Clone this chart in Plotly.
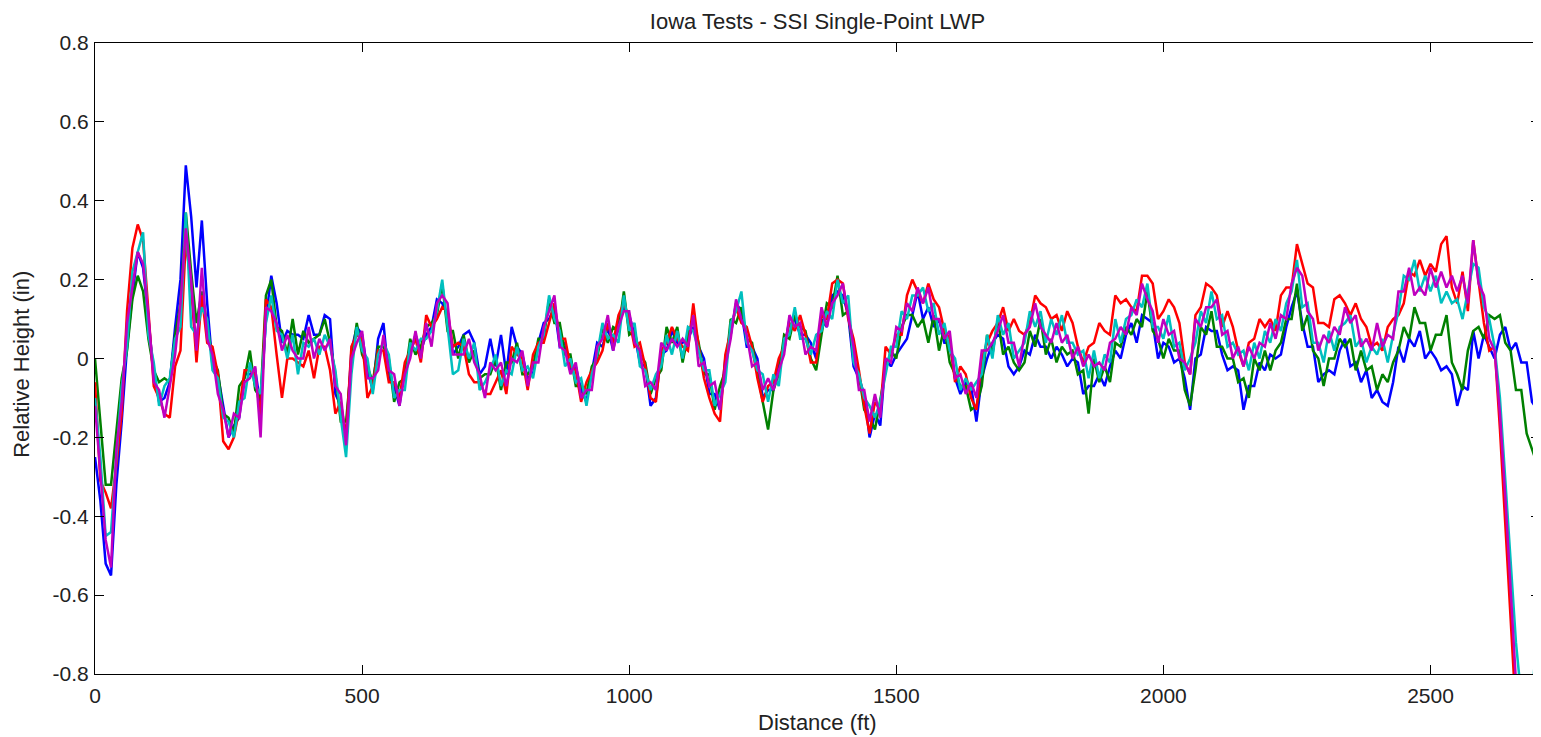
import plotly.graph_objects as go

distance_ft = list(range(0, 2701, 10))

blue = [
    -0.25, -0.36, -0.52, -0.55, -0.32, -0.16, 0.03, 0.16, 0.27, 0.23,
    0.10, -0.04, -0.11, -0.10, -0.06, 0.08, 0.20, 0.49, 0.36, 0.18,
    0.35, 0.14, -0.02, -0.04, -0.12, -0.20, -0.17, -0.15, -0.04, -0.04,
    -0.03, -0.12, 0.10, 0.21, 0.14, 0.04, 0.07, 0.06, 0.06, 0.05,
    0.11, 0.06, 0.06, 0.11, 0.10, -0.09, -0.12, -0.20, 0.02, 0.08,
    0.06, -0.03, -0.08, 0.05, 0.09, -0.05, -0.07, -0.12, -0.02, 0.01,
    0.06, 0.02, 0.06, 0.08, 0.15, 0.14, 0.11, 0.01, 0.03, 0.06,
    0.07, 0.04, -0.04, -0.02, 0.05, -0.02, 0.06, -0.04, 0.08, 0.03,
    0.01, -0.05, -0.04, 0.04, 0.09, 0.10, 0.13, 0.03, 0.04, -0.03,
    -0.02, -0.08, -0.11, -0.03, 0.04, 0.03, 0.08, 0.02, 0.10, 0.13,
    0.11, 0.06, -0.01, -0.02, -0.12, -0.10, 0.01, 0.02, 0.07, 0.04,
    0.04, 0.05, 0.08, 0.03, 0.00, -0.09, -0.09, -0.13, 0.00, 0.06,
    0.14, 0.12, 0.03, 0.03, 0.00, -0.10, -0.08, -0.08, -0.01, 0.02,
    0.10, 0.10, 0.06, 0.06, 0.04, 0.00, 0.10, 0.08, 0.16, 0.17,
    0.16, 0.11, -0.02, -0.05, -0.09, -0.20, -0.14, -0.17, 0.00, -0.02,
    0.01, 0.03, 0.05, 0.11, 0.17, 0.10, 0.13, 0.08, 0.10, 0.04,
    0.04, -0.05, -0.09, -0.06, -0.07, -0.16, -0.05, 0.00, 0.04, 0.06,
    0.05, -0.02, -0.04, -0.02, 0.02, 0.01, 0.06, 0.03, 0.03, 0.00,
    0.03, 0.01, -0.02, 0.00, -0.01, -0.09, -0.07, -0.07, -0.04, -0.07,
    -0.02, 0.02, 0.00, 0.06, 0.09, 0.04, 0.11, 0.10, 0.09, 0.00,
    0.04, 0.03, -0.01, 0.00, -0.05, -0.13, 0.00, 0.01, 0.08, 0.07,
    0.07, 0.01, -0.03, -0.02, -0.03, -0.13, -0.07, -0.07, -0.01, -0.03,
    0.01, 0.00, 0.01, 0.08, 0.13, 0.17, 0.09, 0.03, 0.03, -0.06,
    -0.04, -0.03, -0.04, 0.02, 0.05, -0.02, -0.01, -0.06, -0.03, -0.10,
    -0.08, -0.11, -0.12, -0.06, 0.03, -0.01, 0.05, 0.03, 0.07, 0.00,
    0.02, 0.00, -0.03, -0.02, -0.04, -0.12, -0.07, -0.08, 0.07, 0.00,
    0.06, 0.03, 0.00, 0.06, 0.08, 0.02, 0.04, -0.01, -0.01, -0.11,
    -0.13,
]

green = [
    0.00, -0.17, -0.32, -0.32, -0.18, -0.05, 0.02, 0.15, 0.21, 0.17,
    0.05, -0.03, -0.06, -0.05, -0.06, 0.06, 0.14, 0.37, 0.22, 0.09,
    0.17, 0.08, 0.00, -0.03, -0.14, -0.15, -0.19, -0.07, -0.05, 0.02,
    -0.08, -0.10, 0.16, 0.20, 0.08, 0.07, 0.01, 0.10, 0.01, 0.07,
    0.04, 0.05, 0.06, 0.10, 0.04, -0.04, -0.16, -0.16, -0.01, 0.09,
    0.01, -0.02, -0.06, 0.03, 0.03, 0.00, -0.11, -0.06, -0.05, 0.05,
    0.01, 0.03, 0.08, 0.09, 0.11, 0.19, 0.07, 0.07, 0.00, 0.06,
    -0.01, 0.02, -0.05, -0.04, -0.04, 0.00, -0.08, -0.01, -0.01, 0.04,
    -0.04, -0.04, -0.02, 0.05, 0.05, 0.15, 0.09, 0.09, 0.01, 0.01,
    -0.07, -0.07, -0.09, -0.02, 0.00, 0.08, 0.04, 0.08, 0.07, 0.17,
    0.06, 0.07, 0.01, -0.01, -0.09, -0.05, -0.03, 0.08, 0.04, 0.08,
    -0.01, 0.06, 0.10, 0.04, -0.04, -0.04, -0.13, -0.07, -0.03, 0.10,
    0.09, 0.13, 0.05, 0.04, -0.04, -0.11, -0.18, -0.08, -0.04, 0.06,
    0.05, 0.11, 0.08, 0.07, 0.00, -0.03, 0.06, 0.14, 0.13, 0.21,
    0.11, 0.12, 0.00, -0.04, -0.13, -0.15, -0.18, -0.11, -0.03, 0.02,
    0.00, 0.08, 0.11, 0.11, 0.08, 0.10, 0.04, 0.11, 0.02, 0.08,
    -0.01, -0.04, -0.07, -0.07, -0.13, -0.12, -0.07, 0.06, 0.01, 0.10,
    0.01, 0.03, -0.01, -0.03, -0.01, 0.07, 0.03, 0.10, 0.01, 0.05,
    -0.01, 0.03, 0.01, 0.02, -0.04, -0.03, -0.14, 0.00, -0.06, -0.02,
    -0.06, 0.04, 0.03, 0.08, 0.06, 0.10, 0.08, 0.17, 0.07, 0.05,
    0.00, 0.05, 0.02, 0.02, -0.08, -0.12, -0.03, 0.08, 0.06, 0.12,
    0.03, 0.03, 0.00, 0.00, -0.06, -0.05, -0.10, 0.00, -0.03, 0.02,
    -0.03, 0.02, 0.04, 0.10, 0.10, 0.19, 0.07, 0.11, 0.02, 0.00,
    -0.07, 0.00, 0.00, 0.05, 0.03, 0.05, -0.03, 0.02, -0.03, -0.02,
    -0.08, -0.04, -0.06, -0.01, 0.02, 0.08, 0.05, 0.13, 0.09, 0.09,
    0.02, 0.06, 0.06, 0.11, -0.01, -0.04, -0.08, 0.02, 0.07, 0.08,
    0.05, 0.11, 0.10, 0.11, 0.04, 0.02, -0.08, -0.08, -0.19, -0.23,
    -0.27,
]

red = [
    -0.06, -0.31, -0.34, -0.38, -0.27, -0.14, 0.12, 0.28, 0.34, 0.30,
    0.12, -0.07, -0.10, -0.14, -0.15, -0.02, 0.02, 0.30, 0.18, -0.01,
    0.16, 0.04, 0.03, -0.04, -0.21, -0.23, -0.20, -0.13, -0.03, -0.03,
    -0.04, -0.15, 0.15, 0.13, 0.01, -0.10, 0.00, 0.00, -0.01, -0.02,
    0.02, -0.05, 0.03, 0.03, -0.03, -0.14, -0.11, -0.20, 0.03, 0.06,
    0.05, -0.10, -0.07, 0.02, 0.02, -0.06, -0.06, -0.10, -0.01, 0.02,
    0.05, -0.01, 0.11, 0.08, 0.10, 0.13, 0.12, 0.03, 0.04, 0.03,
    -0.04, -0.06, -0.06, -0.09, -0.09, -0.06, -0.03, -0.09, 0.03, 0.01,
    0.00, -0.08, 0.01, 0.04, 0.04, 0.09, 0.14, 0.05, 0.05, -0.02,
    -0.03, -0.11, -0.06, -0.03, -0.01, 0.02, 0.09, 0.04, 0.11, 0.14,
    0.10, 0.03, 0.04, -0.02, -0.10, -0.11, 0.02, 0.04, 0.08, 0.05,
    0.03, 0.02, 0.14, 0.03, -0.05, -0.10, -0.14, -0.16, 0.01, 0.07,
    0.13, 0.09, 0.08, 0.03, -0.05, -0.11, -0.07, -0.06, 0.00, 0.03,
    0.09, 0.07, 0.11, 0.06, -0.01, -0.01, 0.11, 0.10, 0.19, 0.20,
    0.19, 0.10, 0.05, -0.03, -0.12, -0.19, -0.11, -0.13, 0.03, 0.01,
    0.06, 0.06, 0.16, 0.20, 0.17, 0.14, 0.19, 0.15, 0.13, 0.07,
    0.05, -0.06, -0.02, -0.04, -0.10, -0.13, 0.00, 0.04, 0.07, 0.09,
    0.13, 0.07, 0.10, 0.07, 0.06, 0.09, 0.16, 0.14, 0.13, 0.10,
    0.11, 0.07, 0.12, 0.09, 0.03, -0.01, 0.03, 0.04, 0.09, 0.07,
    0.06, 0.16, 0.14, 0.15, 0.13, 0.12, 0.21, 0.21, 0.19, 0.10,
    0.12, 0.15, 0.13, 0.09, -0.01, -0.04, 0.11, 0.13, 0.19, 0.18,
    0.16, 0.08, 0.12, 0.08, 0.02, -0.02, 0.04, 0.05, 0.10, 0.08,
    0.10, 0.07, 0.16, 0.18, 0.18, 0.29, 0.24, 0.19, 0.18, 0.09,
    0.09, 0.08, 0.15, 0.16, 0.14, 0.11, 0.14, 0.10, 0.08, 0.03,
    0.04, 0.02, 0.08, 0.10, 0.11, 0.14, 0.22, 0.21, 0.25, 0.21,
    0.24, 0.22, 0.29, 0.31, 0.18, 0.14, 0.22, 0.12, 0.30, 0.19,
    0.09, 0.02, 0.03, -0.18, -0.42, -0.66, -0.90, -1.00, -1.05, -1.05,
    -1.00,
]

cyan = [
    -0.10, -0.25, -0.45, -0.44, -0.25, -0.07, 0.03, 0.22, 0.27, 0.32,
    0.06, -0.01, -0.12, -0.07, -0.05, 0.05, 0.08, 0.37, 0.08, 0.06,
    0.13, 0.10, -0.03, -0.05, -0.15, -0.16, -0.20, -0.11, -0.10, -0.01,
    -0.07, -0.09, 0.09, 0.16, 0.07, 0.06, 0.00, 0.06, -0.04, 0.04,
    0.03, 0.05, 0.01, 0.06, 0.03, -0.03, -0.15, -0.25, -0.04, 0.08,
    0.02, 0.00, -0.09, 0.01, 0.04, 0.01, -0.10, -0.08, -0.08, 0.04,
    0.02, 0.05, 0.05, 0.07, 0.12, 0.20, 0.08, -0.04, -0.03, 0.05,
    0.00, 0.04, -0.08, -0.06, -0.03, 0.01, -0.07, -0.03, -0.04, 0.03,
    -0.03, -0.02, -0.05, 0.03, 0.06, 0.16, 0.10, 0.07, -0.02, 0.00,
    -0.06, -0.05, -0.12, -0.04, 0.01, 0.09, 0.05, 0.06, 0.04, 0.16,
    0.07, 0.09, -0.02, -0.03, -0.08, -0.04, -0.02, 0.06, 0.01, 0.07,
    0.00, 0.08, 0.07, 0.02, -0.03, -0.03, -0.12, -0.09, -0.06, 0.09,
    0.12, 0.17, 0.04, 0.02, -0.03, -0.04, -0.11, -0.04, -0.07, 0.05,
    0.06, 0.13, 0.05, 0.05, 0.01, 0.06, 0.07, 0.12, 0.10, 0.20,
    0.14, 0.16, -0.01, -0.04, -0.10, -0.12, -0.15, -0.11, -0.04, 0.03,
    0.03, 0.12, 0.10, 0.16, 0.16, 0.18, 0.12, 0.14, 0.06, 0.09,
    0.02, 0.00, -0.08, -0.05, -0.08, -0.06, -0.04, 0.06, 0.00, 0.11,
    0.06, 0.09, 0.00, 0.02, 0.04, 0.12, 0.08, 0.12, 0.04, 0.10,
    0.06, 0.11, 0.04, 0.04, 0.01, 0.02, -0.05, 0.02, -0.05, 0.01,
    -0.01, 0.10, 0.04, 0.10, 0.11, 0.15, 0.13, 0.19, 0.08, 0.08,
    0.05, 0.11, 0.03, 0.04, -0.03, 0.00, 0.04, 0.12, 0.09, 0.17,
    0.10, 0.11, 0.03, 0.04, 0.01, 0.02, -0.03, 0.04, 0.00, 0.07,
    0.04, 0.10, 0.07, 0.14, 0.17, 0.25, 0.13, 0.14, 0.04, 0.04,
    -0.01, 0.07, 0.02, 0.08, 0.09, 0.11, 0.03, 0.05, -0.01, 0.03,
    0.01, 0.05, -0.01, 0.06, 0.12, 0.21, 0.20, 0.25, 0.17, 0.21,
    0.17, 0.21, 0.14, 0.17, 0.14, 0.15, 0.10, 0.17, 0.24, 0.23,
    0.13, 0.10, 0.03, -0.10, -0.30, -0.52, -0.72, -0.86, -0.95, -0.88,
    -0.66,
]

magenta = [
    -0.12, -0.30, -0.46, -0.53, -0.23, -0.11, 0.09, 0.18, 0.27, 0.24,
    0.11, -0.06, -0.08, -0.15, -0.07, 0.01, 0.14, 0.33, 0.20, 0.02,
    0.23, 0.05, 0.01, -0.09, -0.13, -0.20, -0.14, -0.15, -0.06, -0.05,
    -0.02, -0.20, 0.13, 0.12, 0.09, 0.02, 0.06, 0.02, 0.00, 0.00,
    0.08, 0.00, 0.05, 0.02, 0.05, -0.07, -0.09, -0.22, 0.00, 0.04,
    0.07, -0.05, -0.05, -0.03, 0.06, -0.03, -0.04, -0.12, -0.04, 0.00,
    0.07, 0.00, 0.09, 0.03, 0.14, 0.16, 0.14, 0.01, 0.01, 0.01,
    0.05, -0.01, -0.04, -0.10, -0.01, -0.03, -0.01, -0.07, 0.00, -0.01,
    0.02, -0.07, -0.01, -0.01, 0.08, 0.12, 0.16, 0.03, 0.02, -0.04,
    -0.01, -0.10, -0.08, -0.08, 0.03, 0.05, 0.11, 0.02, 0.08, 0.12,
    0.12, 0.04, 0.02, -0.07, -0.06, -0.08, 0.04, 0.02, 0.05, 0.03,
    0.05, 0.03, 0.11, -0.02, -0.01, -0.07, -0.06, -0.13, -0.02, 0.05,
    0.15, 0.10, 0.06, -0.02, -0.01, -0.08, -0.05, -0.08, -0.03, 0.01,
    0.11, 0.08, 0.09, 0.01, 0.03, 0.02, 0.13, 0.08, 0.14, 0.16,
    0.19, 0.11, 0.03, -0.08, -0.08, -0.16, -0.09, -0.15, 0.00, -0.01,
    0.08, 0.07, 0.14, 0.12, 0.18, 0.14, 0.18, 0.10, 0.10, 0.05,
    0.07, -0.05, -0.04, -0.09, -0.06, -0.10, 0.02, 0.02, 0.04, 0.07,
    0.11, 0.04, 0.04, -0.02, 0.06, 0.08, 0.14, 0.08, 0.06, 0.04,
    0.09, 0.04, 0.06, 0.00, 0.03, -0.02, 0.01, -0.02, -0.01, -0.03,
    0.04, 0.05, 0.08, 0.06, 0.13, 0.11, 0.19, 0.15, 0.12, 0.04,
    0.10, 0.06, 0.07, 0.00, -0.01, -0.04, 0.10, 0.08, 0.13, 0.13,
    0.15, 0.06, 0.07, 0.00, 0.03, -0.02, 0.03, 0.00, 0.04, 0.03,
    0.09, 0.05, 0.11, 0.10, 0.19, 0.23, 0.21, 0.12, 0.10, 0.02,
    0.06, 0.04, 0.08, 0.06, 0.13, 0.09, 0.11, 0.03, 0.05, 0.02,
    0.09, 0.03, 0.06, 0.05, 0.17, 0.17, 0.23, 0.16, 0.18, 0.16,
    0.23, 0.18, 0.22, 0.18, 0.21, 0.17, 0.21, 0.14, 0.30, 0.19,
    0.16, 0.05, 0.02, -0.14, -0.35, -0.60, -0.82, -1.00, -1.05, -0.95,
    -0.76,
]

x_tickvals = [0, 500, 1000, 1500, 2000, 2500]
x_ticktext = ["0", "500", "1000", "1500", "2000", "2500"]
y_tickvals = [-0.8, -0.6, -0.4, -0.2, 0, 0.2, 0.4, 0.6, 0.8]
y_ticktext = ["-0.8", "-0.6", "-0.4", "-0.2", "0", "0.2", "0.4", "0.6", "0.8"]

series = [
    ("Run 1", blue, "#0000ff"),
    ("Run 2", green, "#008000"),
    ("Run 3", red, "#ff0000"),
    ("Run 4", cyan, "#00bfbf"),
    ("Run 5", magenta, "#bf00bf"),
]

FONT = "Liberation Sans, Arial, Helvetica, sans-serif"

# The page body has an 8px margin, so the figure is sized to fit inside the
# window and the margins are set so the plot box lands where the reference's does.
FIG_W, FIG_H = 1533, 729

fig = go.Figure()
for name, vals, color in series:
    fig.add_trace(go.Scatter(
        x=distance_ft, y=vals, mode="lines", name=name,
        line=dict(color=color, width=2.5),
        showlegend=False,
    ))

axis_common = dict(
    showgrid=False, zeroline=False, showline=True, linecolor="#000000",
    linewidth=1, mirror="ticks", ticks="inside", ticklen=9, tickwidth=1,
    tickcolor="#000000", tickfont=dict(family=FONT, size=21, color="#222222"),
)

fig.update_xaxes(range=[0, 2705], tickvals=x_tickvals, ticktext=x_ticktext,
                 ticklabelstandoff=3, **axis_common)
fig.update_yaxes(range=[-0.8, 0.8], tickvals=y_tickvals, ticktext=y_ticktext,
                 ticklabelstandoff=1, **axis_common)

fig.update_layout(
    width=FIG_W, height=FIG_H,
    margin=dict(l=87, r=1, t=35, b=63, pad=0),
    plot_bgcolor="#ffffff", paper_bgcolor="#ffffff",
    title=dict(text="Iowa Tests - SSI Single-Point LWP", x=0.5,
               xref="paper", xanchor="center",
               y=1 - 13 / FIG_H, yanchor="middle", yref="container",
               font=dict(family=FONT, size=22, color="#222222")),
    annotations=[
        dict(text="Distance (ft)", xref="paper", yref="paper", x=0.5, y=0,
             xanchor="center", yanchor="middle", yshift=-48, showarrow=False,
             font=dict(family=FONT, size=22, color="#222222")),
        dict(text="Relative Height (in)", xref="paper", yref="paper",
             x=-73 / 1445, y=0.49, xanchor="center", yanchor="middle",
             textangle=-90, showarrow=False,
             font=dict(family=FONT, size=22, color="#222222")),
    ],
)

fig.write_html("out.html")
